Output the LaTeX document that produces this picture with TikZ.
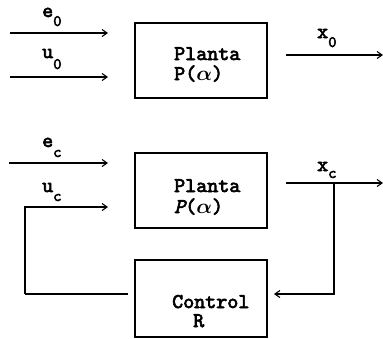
\documentclass[tikz,border=0pt]{standalone}
\usepackage{fontspec}
\usepackage{amsmath,bm}
\newfontfamily\lblfont{lmmono10-regular}[Extension=.otf, FakeBold=3]
\newfontfamily\lblslant{lmmono10-italic}[Extension=.otf, FakeBold=3]
\usetikzlibrary{arrows.meta}
\tikzset{
  block/.style={draw, line width=1.3pt, minimum width=132pt, inner sep=0pt},
  sig/.style={line width=1.3pt, -{Straight Barb[length=5pt,width=7pt,line width=1.1pt]}},
  wire/.style={line width=1.3pt},
  lbl/.style={font=\fontsize{21}{21}\selectfont\lblfont, inner sep=0pt, anchor=base west},
}
% letter with a lowered subscript; optional argument = drop of the subscript
\newcommand{\sublbl}[3][10pt]{#2\raisebox{-#1}{\fontsize{16}{16}\selectfont #3}}
\newcommand{\alphachar}{$\boldsymbol{\alpha}$}
\begin{document}
\begin{tikzpicture}[x=1pt,y=1pt]
\useasboundingbox (0,0) rectangle (383,-338);
% open-loop plant
\node[block, minimum height=75pt] (p1) at (201,-60.5) {};
\node[lbl] (t1) at (174,-60) {Planta};
\node[lbl] (t2) at (174,-80) {P(\alphachar)};
\coordinate (e0s) at (10,-33);
\coordinate (e0e) at (108,-33);
\coordinate (u0s) at (10,-77);
\coordinate (u0e) at (108,-77);
\coordinate (x0s) at (286,-55);
\coordinate (x0e) at (383,-55);
\draw[sig] (e0s) -- (e0e);
\draw[sig] (u0s) -- (u0e);
\draw[sig] (x0s) -- (x0e);
\node[lbl] (le0) at (42,-17) {\sublbl[9pt]{e}{0}};
\node[lbl] (lu0) at (42,-58) {\sublbl[11pt]{u}{0}};
\node[lbl] (lx0) at (317,-38) {\sublbl[9pt]{x}{0}};
% closed-loop plant with controller
\node[block, minimum height=75pt] (p2) at (201,-190.5) {};
\node[lbl] (t3) at (174,-192) {Planta};
\node[lbl] (t4) at (174,-213) {{\lblslant P}(\alphachar)};
\node[block, minimum height=77pt] (ctl) at (201,-298.5) {};
\node[lbl] (t5) at (172,-308) {Control};
\node[lbl] (t6) at (193,-327) {R};
\coordinate (ecs) at (9,-163);
\coordinate (ece) at (108,-163);
\coordinate (ucs) at (25,-207);
\coordinate (uce) at (108,-207);
\coordinate (ucb) at (25,-294);
\coordinate (uco) at (128,-294);
\coordinate (xcs) at (286,-183);
\coordinate (xce) at (383,-183);
\coordinate (br) at (334,-183);
\coordinate (brd) at (334,-294);
\coordinate (cin) at (274,-294);
\draw[sig] (ecs) -- (ece);
\draw[sig] (ucb) -- (ucs) -- (uce);
\draw[wire] (ucb) -- (uco);
\draw[sig] (xcs) -- (xce);
\draw[sig] (br) -- (brd) -- (cin);
\node[lbl] (lec) at (42,-147) {\sublbl[10pt]{e}{c}};
\node[lbl] (luc) at (42,-192) {\sublbl[9pt]{u}{c}};
\node[lbl] (lxc) at (317,-171) {\sublbl[7pt]{x}{c}};
\end{tikzpicture}
\end{document}
